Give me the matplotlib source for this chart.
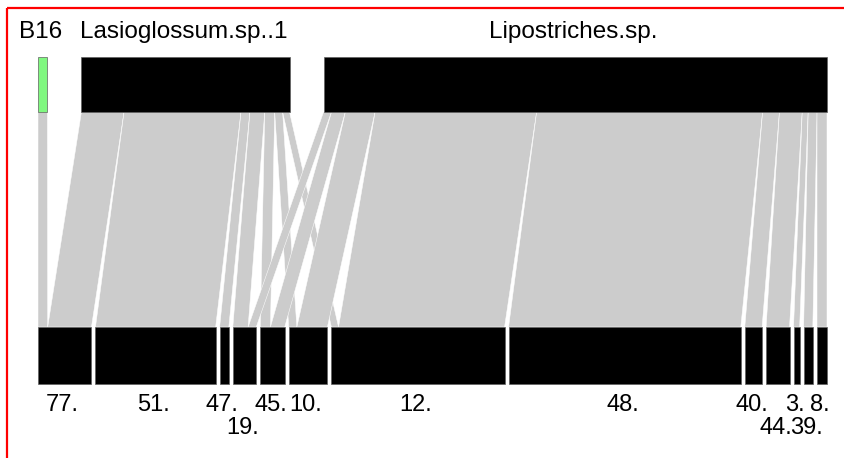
import numpy as np
import matplotlib.pyplot as plt
from matplotlib.patches import Rectangle, Polygon

# --- DATA ---
high_species = ["B16", "Lasioglossum.sp..1", "Lipostriches.sp."]
high_colors = ["#80F880", "black", "black"]
low_species = ["77.", "51.", "47.", "19.", "45.", "10.", "12.",
               "48.", "40.", "44.", "3.", "39.", "8."]

# interaction weights of each pollinator with the plants (low_species order)
b16_links = [9.5, 0, 0, 0, 0, 0, 0, 0, 0, 0, 0, 0, 0]
las_links = [43, 118, 9, 15, 10, 8, 7, 0, 0, 0, 0, 0, 0]
lip_links = [0, 0, 0, 8, 14, 30, 163, 228, 17, 23, 6, 9, 10]

web = np.array([b16_links, las_links, lip_links], dtype=float)

# --- LAYOUT (pixel coordinates) ---
W, H = 844, 458
x_left, x_right = 38, 827
gap_high, gap_low = 34, 4
high_top, high_bot = 57, 112
low_top, low_bot = 327, 384
link_grey = "#CCCCCC"

n_high, n_low = web.shape
high_tot = web.sum(axis=1)
low_tot = web.sum(axis=0)
total = web.sum()

scale_high = (x_right - x_left - gap_high * (n_high - 1)) / total
scale_low = (x_right - x_left - gap_low * (n_low - 1)) / total

high_x = x_left + np.concatenate([[0], np.cumsum(high_tot * scale_high + gap_high)[:-1]])
low_x = x_left + np.concatenate([[0], np.cumsum(low_tot * scale_low + gap_low)[:-1]])

fig = plt.figure(figsize=(W / 100, H / 100), dpi=100)
ax = fig.add_axes([0, 0, 1, 1])
ax.set_xlim(0, W)
ax.set_ylim(H, 0)
ax.axis("off")

# links: split each high box by plant order, each low box by pollinator order
low_offset = np.zeros(n_low)
for i in range(n_high):
    top_pos = high_x[i]
    for j in range(n_low):
        v = web[i, j]
        if v <= 0:
            continue
        t0, t1 = top_pos, top_pos + v * scale_high
        b0 = low_x[j] + low_offset[j]
        b1 = b0 + v * scale_low
        ax.add_patch(Polygon([(t0, high_bot), (t1, high_bot), (b1, low_top), (b0, low_top)],
                             closed=True, facecolor=link_grey, edgecolor="white",
                             linewidth=0.35, zorder=2))
        top_pos = t1
        low_offset[j] += v * scale_low

# boxes
for i in range(n_high):
    ax.add_patch(Rectangle((high_x[i], high_top), high_tot[i] * scale_high, high_bot - high_top,
                           facecolor=high_colors[i], edgecolor="#606060", linewidth=0.5, zorder=3))
    ax.text(high_x[i] + high_tot[i] * scale_high / 2 - 2, 38, high_species[i],
            ha="center", va="baseline", fontsize=17.5, family="Liberation Sans")

for j in range(n_low):
    ax.add_patch(Rectangle((low_x[j], low_top), low_tot[j] * scale_low, low_bot - low_top,
                           facecolor="black", edgecolor="#606060", linewidth=0.5, zorder=3))

# plant labels, pushed to a second row where they would overlap
labels = []
for j in range(n_low):
    cx = low_x[j] + low_tot[j] * scale_low / 2 - 2
    labels.append(ax.text(cx, 411, low_species[j], ha="center", va="baseline",
                          fontsize=17, family="Liberation Sans"))

fig.canvas.draw()
renderer = fig.canvas.get_renderer()
last_right = -np.inf
for t in labels:
    bb = t.get_window_extent(renderer)
    if bb.x0 < last_right - 1:
        t.set_y(434)
    else:
        last_right = bb.x1

# red frame
ax.plot([7, 7], [8, H + 5], color="red", linewidth=1.6, zorder=5, solid_capstyle="butt")
ax.plot([7, W + 5], [8, 8], color="red", linewidth=1.6, zorder=5, solid_capstyle="butt")

plt.savefig("out.png", dpi=100)
plt.close()
